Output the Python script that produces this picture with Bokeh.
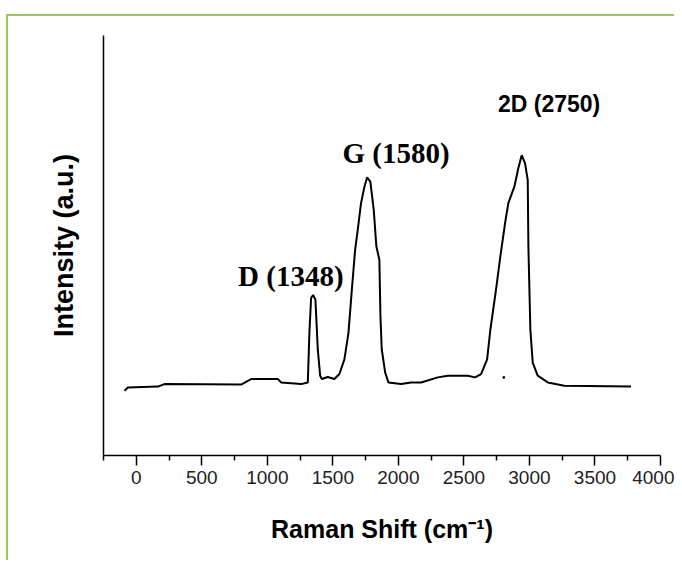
from bokeh.plotting import figure
from bokeh.models import Range1d, FixedTicker, Label
from bokeh.embed import file_html
from bokeh.resources import INLINE

# Raman spectrum (x: Raman shift, y: intensity in a.u.)
raman_shift = [-90, -64, 165, 215, 800, 876, 1080, 1105, 1258, 1309,
               1321, 1334, 1349, 1367, 1385, 1403, 1416, 1461, 1512, 1550,
               1588, 1619, 1645, 1670, 1690, 1715, 1741, 1761, 1786, 1812,
               1832, 1855, 1863, 1873, 1899, 1924, 2020, 2097, 2173, 2301,
               2377, 2529, 2585, 2631, 2677, 2702, 2745, 2778, 2814, 2839,
               2885, 2915, 2941, 2966, 2987, 2992, 3007, 3025, 3063, 3140,
               3266, 3775]
intensity = [15.4, 16.2, 16.4, 17.0, 16.9, 18.2, 18.2, 17.4, 17.0, 17.4,
             29.2, 37.5, 38.2, 37.1, 25.3, 19.0, 18.2, 18.7, 18.2, 19.4,
             22.9, 29.2, 39.5, 49.0, 53.7, 60.1, 64.0, 66.2, 65.2, 58.5,
             49.8, 46.6, 33.2, 25.3, 19.8, 17.4, 17.0, 17.4, 17.4, 18.6,
             19.0, 19.0, 18.6, 19.4, 22.9, 30.0, 39.5, 47.4, 55.3, 60.1,
             64.0, 68.4, 71.5, 69.6, 65.6, 49.8, 30.0, 22.1, 19.0, 17.4,
             16.6, 16.4]
stray_x = [2804]
stray_y = [18.6]

x_ticks = [0, 500, 1000, 1500, 2000, 2500, 3000, 3500, 4000]
x_minor = [-250, 250, 750, 1250, 1750, 2250, 2750, 3250, 3750]

peak_labels = ["D (1348)", "G (1580)", "2D (2750)"]
label_x = [1179, 1982, 3150]
label_y = [42.7, 72.1, 83.6]

GREEN = "#9cc84b"

p = figure(width=668, height=546, output_backend="svg", toolbar_location=None,
           x_range=Range1d(-250, 4000), y_range=Range1d(0, 100),
           min_border_left=95, min_border_right=16, min_border_top=19,
           min_border_bottom=107)
p.styles = {"margin-left": "6px", "margin-top": "14px",
            "border-top": f"2px solid {GREEN}", "border-left": f"2px solid {GREEN}"}
p.background_fill_color = "white"
p.border_fill_color = "white"
p.outline_line_color = None
p.xgrid.grid_line_color = None
p.ygrid.grid_line_color = None

p.line(raman_shift, intensity, line_color="black", line_width=2)
p.scatter(stray_x, stray_y, size=2, color="black")

# x axis
xa = p.xaxis[0]
xa.ticker = FixedTicker(ticks=x_ticks, minor_ticks=x_minor)
xa.axis_line_width = 1.5
xa.axis_line_color = "black"
xa.major_tick_out = 10
xa.major_tick_in = 0
xa.minor_tick_out = 5
xa.minor_tick_in = 0
xa.major_tick_line_width = 1.5
xa.minor_tick_line_width = 1.5
xa.major_tick_line_color = "black"
xa.minor_tick_line_color = "black"
xa.major_label_text_font = "Liberation Sans"
xa.major_label_text_font_size = "19px"
xa.major_label_text_color = "#222222"
xa.major_label_standoff = 5
xa.axis_label = "Raman Shift (cm⁻¹)"
xa.axis_label_text_font = "Liberation Sans"
xa.axis_label_text_font_style = "bold"
xa.axis_label_text_font_size = "25px"
xa.axis_label_text_color = "black"
xa.axis_label_standoff = 28

# y axis
ya = p.yaxis[0]
ya.ticker = FixedTicker(ticks=[])
ya.major_tick_out = 0
ya.major_tick_in = 0
ya.minor_tick_out = 0
ya.minor_tick_in = 0
ya.major_label_text_font_size = "0px"
ya.axis_line_width = 1.5
ya.axis_line_color = "black"
ya.axis_label = "Intensity (a.u.)"
ya.axis_label_text_font = "Liberation Sans"
ya.axis_label_text_font_style = "bold"
ya.axis_label_text_font_size = "27px"
ya.axis_label_text_color = "black"
ya.axis_label_standoff = 25

fonts = ["Liberation Serif", "Liberation Serif", "Liberation Sans"]
sizes = ["29px", "29px", "23px"]
for t, lx, ly, f, s in zip(peak_labels, label_x, label_y, fonts, sizes):
    p.add_layout(Label(x=lx, y=ly, text=t, text_font=f, text_font_size=s,
                       text_font_style="bold", text_align="center",
                       text_baseline="middle", text_color="black"))

open("out.html", "w").write(file_html(p, INLINE))
